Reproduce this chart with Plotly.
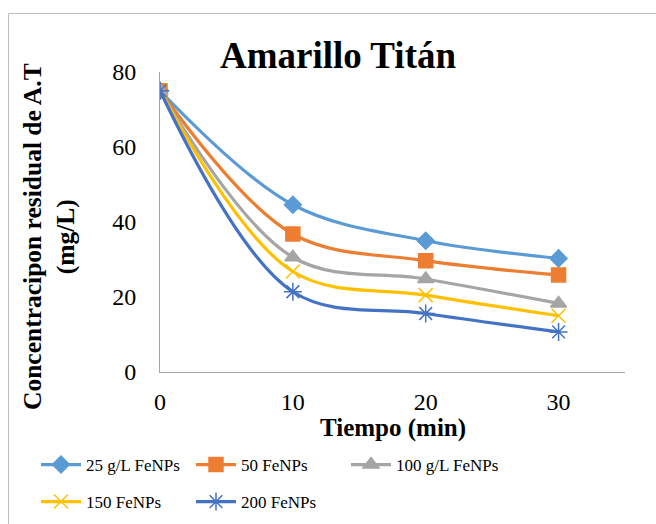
import plotly.graph_objects as go

tiempo = [0, 10, 20, 30]
series_names = ["25 g/L FeNPs", "50 FeNPs", "100 g/L FeNPs", "150 FeNPs", "200 FeNPs"]
s25 = [75, 44.6, 35.0, 30.3]
s50 = [75, 36.8, 29.7, 25.9]
s100 = [75, 30.6, 24.8, 18.3]
s150 = [75, 26.8, 20.5, 15.0]
s200 = [75, 21.4, 15.6, 10.7]
y_ticks = [0, 20, 40, 60, 80]
x_ticks = [0, 10, 20, 30]

colors = ["#5B9BD5", "#ED7D31", "#A5A5A5", "#FFC000", "#4472C4"]
symbols = ["diamond", "square", "triangle-up", "x-thin", "asterisk"]
sizes = [13, 14, 14, 14, 15]
values = [s25, s50, s100, s150, s200]
legends = ["legend", "legend", "legend", "legend2", "legend2"]

FONT = "'Liberation Serif', 'Times New Roman', serif"
fig = go.Figure()
for name, vals, c, sym, sz, lg in zip(series_names, values, colors, symbols, sizes, legends):
    fig.add_trace(go.Scatter(
        x=tiempo, y=vals, name=name, mode="lines+markers",
        line=dict(color=c, width=3.2, shape="spline", smoothing=1.0),
        marker=dict(symbol=sym, size=sz, color=c, line=dict(color=c, width=1.5)),
        legend=lg,
    ))

# plot area: x 160..625, y 72..372 in pixels
W, H = 656, 524
L, R, T, B = 160, 625, 72, 372
pw, ph = R - L, B - T
def px(x):
    return (x - L) / pw
def py(y):
    return (B - y) / ph
def cx(x):
    return x / W
def cy(y):
    return 1 - y / H

leg_common = dict(orientation="h", xanchor="left", yanchor="top",
                  xref="container", yref="container", itemwidth=40,
                  entrywidth=100, entrywidthmode="pixels",
                  font=dict(family=FONT, size=17), bgcolor="rgba(0,0,0,0)")

fig.update_layout(
    width=W, height=H,
    margin=dict(l=L, r=W - R, t=T, b=H - B, autoexpand=False),
    paper_bgcolor="white", plot_bgcolor="white",
    font=dict(family=FONT, size=18, color="black"),
    title=dict(text="<b>Amarillo Titán</b>", x=cx(338), xanchor="center",
               y=cy(55), yanchor="middle", xref="container", yref="container",
               font=dict(family=FONT, size=37, color="black")),
    xaxis=dict(range=[0, 35], tickvals=x_ticks, showgrid=False, zeroline=False,
               showline=True, linecolor="#A6A6A6", linewidth=1, ticks="",
               tickfont=dict(family=FONT, size=24), ticklabelstandoff=8,
               automargin=False),
    yaxis=dict(range=[0, 80], tickvals=y_ticks, showgrid=False, zeroline=False,
               showline=True, linecolor="#A6A6A6", linewidth=1, ticks="",
               tickfont=dict(family=FONT, size=24), ticklabelstandoff=18,
               automargin=False),
    legend=dict(x=cx(36), y=cy(447), **leg_common),
    legend2=dict(x=cx(36), y=cy(484), **leg_common),
    showlegend=True,
)

fig.add_annotation(text="<b>Concentracipon residual de A.T</b><br><b>(mg/L)</b>",
                   x=px(49), y=py(237), xref="paper", yref="paper",
                   textangle=-90, showarrow=False, xanchor="center", yanchor="middle",
                   font=dict(family=FONT, size=25.5, color="black"))
fig.add_annotation(text="<b>Tiempo (min)</b>", x=0.5, y=py(428), xref="paper", yref="paper",
                   showarrow=False, xanchor="center", yanchor="middle",
                   font=dict(family=FONT, size=25, color="black"))

fig.add_shape(type="rect", xref="paper", yref="paper",
              x0=px(8.5), y0=py(560), x1=px(700), y1=py(13.5),
              line=dict(color="#BFBFBF", width=1), layer="below")

fig.write_html("out.html")
